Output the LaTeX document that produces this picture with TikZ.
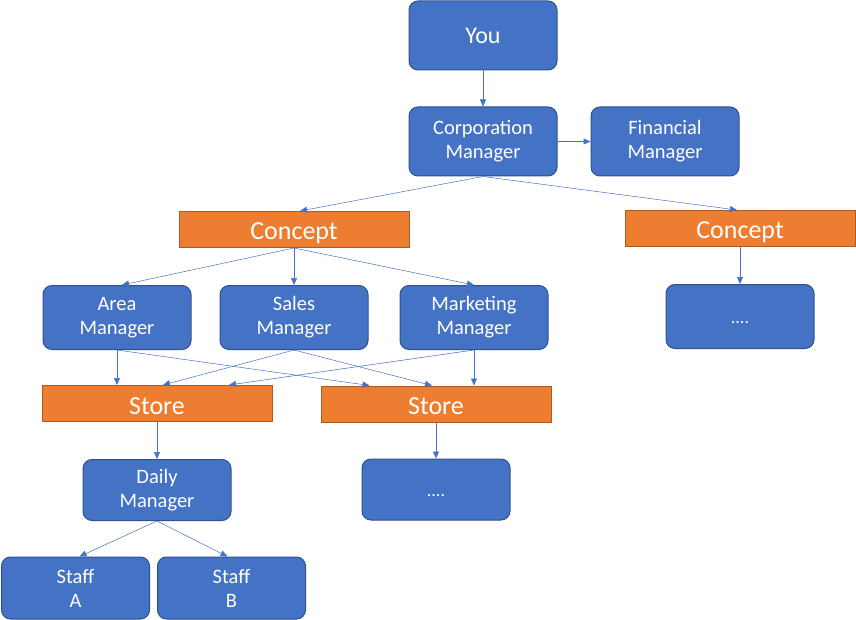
\documentclass[tikz,border=0pt]{standalone}
\usepackage{fontspec}
\setmainfont{Carlito}
\usetikzlibrary{arrows.meta, positioning, calc}
\definecolor{boxblue}{RGB}{68,114,196}
\definecolor{boxblueline}{RGB}{47,82,143}
\definecolor{conceptorange}{RGB}{237,125,49}
\definecolor{conceptline}{RGB}{174,90,33}
\definecolor{linkblue}{RGB}{68,114,196}
\tikzset{
  rolebox/.style={rectangle, rounded corners=9pt, minimum width=148pt,
    minimum height=64pt, inner sep=0pt, align=center, draw=boxblueline,
    line width=1pt, fill=boxblue, text=white,
    font=\fontsize{20.5}{24}\selectfont},
  tallbox/.style={rolebox, minimum height=69pt},
  lowbox/.style={rolebox, minimum height=61pt},
  orangebar/.style={rectangle, minimum width=230pt, minimum height=36pt,
    inner sep=0pt, draw=conceptline, line width=1pt, fill=conceptorange,
    text=white, text height=21pt, text depth=0pt,
    font=\fontsize{26}{30}\selectfont},
  dotsbox/.style={text height=14pt, text depth=0pt, font=\fontsize{18}{20}\selectfont},
  link/.style={-{Triangle[length=7pt, width=6pt]}, line width=0.5pt, color=linkblue},
}

\begin{document}
\begin{tikzpicture}[x=1pt, y=-1pt]
  \useasboundingbox (0,0) rectangle (856,620);
  % top of the tree
  \node[tallbox, font=\fontsize{24}{28}\selectfont] (you) at (483,35.5) {You};
  \node[tallbox, below=36pt of you] (corp) {Corporation\\Manager};
  \node[tallbox, right=33pt of corp] (fin) {Financial\\Manager};
  \node[orangebar] (concept1) at (294,229.5) {Concept};
  \node[orangebar] (concept2) at (740,228.5) {Concept};
  % managers of one concept
  \node[rolebox, below=37pt of concept1] (sales) {Sales\\Manager};
  \node[rolebox, left=28pt of sales] (area) {Area\\Manager};
  \node[rolebox, right=31pt of sales] (mkt) {Marketing\\Manager};
  \node[rolebox, dotsbox, below=37pt of concept2] (more1) {....};
  \node[orangebar] (store1) at (157,403.5) {Store};
  \node[orangebar] (store2) at (436,404) {Store};
  \node[lowbox, below=37pt of store1] (daily) {Daily\\Manager};
  \node[lowbox, dotsbox, below=36pt of store2] (more2) {....};
  \node[lowbox, minimum height=62pt] (staffa) at (75.5,588) {Staff\\A};
  \node[lowbox, minimum height=62pt, right=7pt of staffa] (staffb) {Staff\\B};

  \draw[link] (you) -- (corp);
  \draw[link] (corp) -- (fin);
  \draw[link] (corp.south) -- ($(concept1.north)+(6,0)$);
  \draw[link] (corp.south) -- ($(concept2.north)+(-3,0)$);
  \draw[link] (concept1.south) -- ($(area.north)+(5,0)$);
  \draw[link] (concept1.south) -- (sales.north);
  \draw[link] (concept1.south) -- (mkt.north);
  \draw[link] (concept2) -- (more1);
  \draw[link] (area.south) -- (area.south |- store1.north);
  \draw[link] (area.south) -- ($(store2.north west)+(49,0)$);
  \draw[link] (sales.south) -- ($(store1.north)+(6,0)$);
  \draw[link] (sales.south) -- ($(store2.north)+(-4,0)$);
  \draw[link] (mkt.south) -- ($(store1.north)+(72,0)$);
  \draw[link] (mkt.south) -- (mkt.south |- store2.north);
  \draw[link] (store1) -- (daily);
  \draw[link] (store2) -- (more2);
  \draw[link] (daily.south) -- ($(staffa.north)+(4,0)$);
  \draw[link] (daily.south) -- ($(staffb.north)+(-4,0)$);
\end{tikzpicture}
\end{document}
